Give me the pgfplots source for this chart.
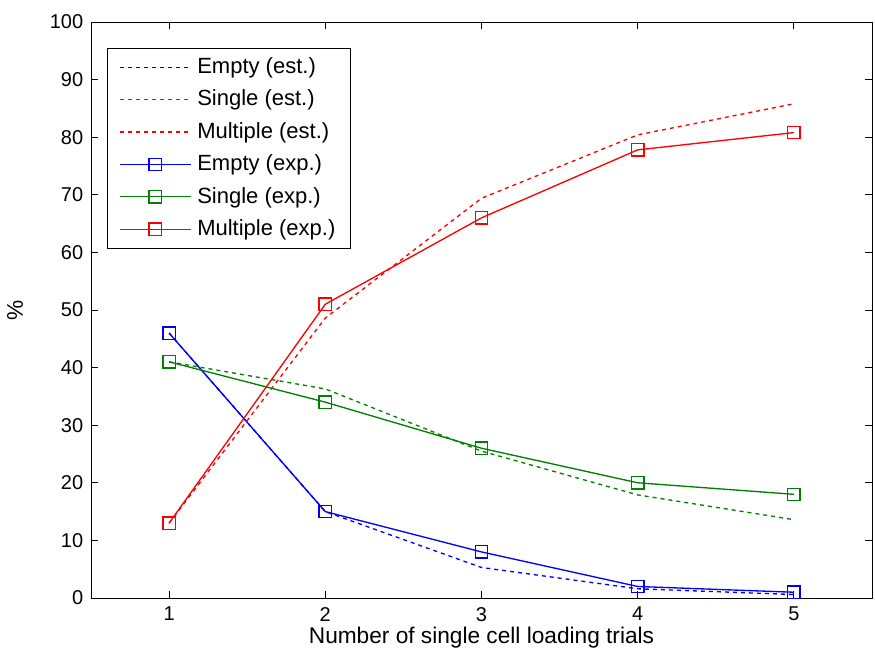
\documentclass[border=0pt]{standalone}
\usepackage{pgfplots}
\pgfplotsset{compat=1.18}
\usepackage{fontspec}
\setmainfont{Liberation Sans}
\definecolor{mblue}{rgb}{0,0,1}
\definecolor{mgreen}{rgb}{0,0.5,0}
\definecolor{mred}{rgb}{1,0,0}
\begin{document}
\fontsize{17pt}{20pt}\selectfont
\begin{tikzpicture}
\useasboundingbox (-68.25pt,-46.5pt) rectangle (588pt,448.5pt);
\begin{axis}[
  at={(0pt,0pt)}, anchor=south west,
  scale only axis,
  width=585.75pt, height=432pt,
  xmin=0.5, xmax=5.5, ymin=0, ymax=100,
  xtick={1,2,3,4,5}, ytick={0,10,...,100},
  tick align=inside, major tick length=5pt,
  tick style={black, line width=0.7pt},
  axis line style={line width=0.7pt},
  /pgf/number format/assume math mode=true,
  tick label style={font=\fontsize{15pt}{18pt}\selectfont},
  xticklabel style={yshift=-1pt},
  xlabel={Number of single cell loading trials},
  ylabel={\%},
  every axis x label/.style={at={(rel axis cs:0.5,0)}, anchor=center, yshift=-30pt, font=\fontsize{17pt}{20pt}\selectfont},
  every axis y label/.style={at={(rel axis cs:0,0.5)}, anchor=center, xshift=-57pt, rotate=90, font=\fontsize{17pt}{20pt}\selectfont},
  legend cell align=left,
  legend style={at={(rel axis cs:0.0205,0.955)}, anchor=north west,
    draw=black, fill=white,
    font=\fontsize{16.5pt}{19.5pt}\selectfont,
    row sep=5.8pt, inner xsep=9pt, inner ysep=5pt,
    /tikz/every odd column/.style={column sep=2.5pt}},
  legend image code/.code={\draw[mark repeat=2,mark phase=2,line width=1pt,#1] plot coordinates {(0pt,0pt)(26.5pt,0pt)(53pt,0pt)};},
]
\addplot[mblue, line width=1pt, dash pattern=on 3pt off 3pt] coordinates {(1,46) (2,15) (3,5.3) (4,1.6) (5,0.6)};
\addlegendentry{Empty (est.)}
\addplot[mgreen, line width=1pt, dash pattern=on 3pt off 3pt] coordinates {(1,41) (2,36.3) (3,25.5) (4,17.9) (5,13.6)};
\addlegendentry{Single (est.)}
\addplot[mred, line width=1pt, dash pattern=on 3pt off 3pt] coordinates {(1,13) (2,48.6) (3,69.4) (4,80.4) (5,85.8)};
\addlegendentry{Multiple (est.)}
\addplot[mblue, line width=1pt, mark=square, mark size=4.6pt, mark options={solid, line width=1pt}] coordinates {(1,46) (2,15) (3,8) (4,2) (5,1)};
\addlegendentry{Empty (exp.)}
\addplot[mgreen, line width=1pt, mark=square, mark size=4.6pt, mark options={solid, line width=1pt}] coordinates {(1,41) (2,34) (3,26) (4,20) (5,18)};
\addlegendentry{Single (exp.)}
\addplot[mred, line width=1pt, mark=square, mark size=4.6pt, mark options={solid, line width=1pt}] coordinates {(1,13) (2,51) (3,66) (4,77.8) (5,80.8)};
\addlegendentry{Multiple (exp.)}
\end{axis}
\end{tikzpicture}
\end{document}
